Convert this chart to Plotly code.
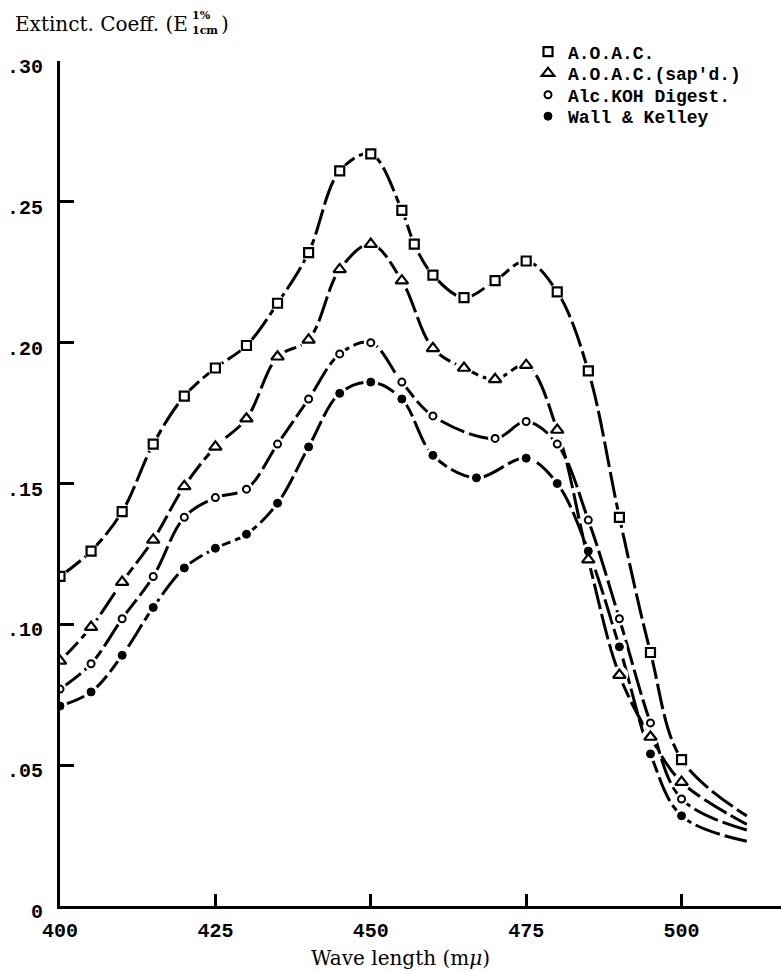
import plotly.graph_objects as go

# ---------------- data ----------------
wl_aoac = [400, 405, 410, 415, 420, 425, 430, 435, 440, 445, 450, 455, 457, 460,
           465, 470, 475, 480, 485, 490, 495, 500]
ext_aoac = [0.117, 0.126, 0.140, 0.164, 0.181, 0.191, 0.199, 0.214, 0.232, 0.261,
            0.267, 0.247, 0.235, 0.224, 0.216, 0.222, 0.229, 0.218, 0.190, 0.138,
            0.090, 0.052]

wl_sapd = [400, 405, 410, 415, 420, 425, 430, 435, 440, 445, 450, 455, 460, 465,
           470, 475, 480, 485, 490, 495, 500]
ext_sapd = [0.087, 0.099, 0.115, 0.130, 0.149, 0.163, 0.173, 0.195, 0.201, 0.226,
            0.235, 0.222, 0.198, 0.191, 0.187, 0.192, 0.169, 0.123, 0.082, 0.060,
            0.044]

wl_koh = [400, 405, 410, 415, 420, 425, 430, 435, 440, 445, 450, 455, 460, 470,
          475, 480, 485, 490, 495, 500]
ext_koh = [0.077, 0.086, 0.102, 0.117, 0.138, 0.145, 0.148, 0.164, 0.180, 0.196,
           0.200, 0.186, 0.174, 0.166, 0.172, 0.164, 0.137, 0.102, 0.065, 0.038]

wl_wk = [400, 405, 410, 415, 420, 425, 430, 435, 440, 445, 450, 455, 460, 467,
         475, 480, 485, 490, 495, 500]
ext_wk = [0.071, 0.076, 0.089, 0.106, 0.120, 0.127, 0.132, 0.143, 0.163, 0.182,
          0.186, 0.180, 0.160, 0.152, 0.159, 0.150, 0.126, 0.092, 0.054, 0.032]

# unmarked end of each drawn curve
wl_tail = 510.5
tail_values = [0.032, 0.029, 0.027, 0.023]

series_names = ["A.O.A.C.", "A.O.A.C.(sap'd.)", "Alc.KOH Digest.", "Wall & Kelley"]

x_tickvals = [400, 425, 450, 475, 500]
x_ticktext = ["400", "425", "450", "475", "500"]
y_tickvals = [0, 0.05, 0.10, 0.15, 0.20, 0.25, 0.30]
y_ticktext = ["0", ".05", ".10", ".15", ".20", ".25", ".30"]

# ---------------- styling ----------------
W, H = 781, 971
L, R, T, B = 60, 0, 61, 65
PW, PH = W - L - R, H - T - B


def px(xp):
    return (xp - L) / PW


def py(yp):
    return (H - B - yp) / PH


mono = dict(family="Liberation Mono, Courier New, monospace", size=20, color="black", weight="bold")
mono_leg = dict(family="Liberation Mono, Courier New, monospace", size=18, color="black", weight="bold")
serif = dict(family="DejaVu Serif, serif", size=20, color="black")

styles = [
    dict(symbol="square", size=9, color="white", line=dict(color="black", width=2.2)),
    dict(symbol="triangle-up", size=11, color="white", line=dict(color="black", width=2.2)),
    dict(symbol="circle", size=7, color="white", line=dict(color="black", width=2)),
    dict(symbol="circle", size=8, color="black", line=dict(color="black", width=1)),
]

data = [(wl_aoac, ext_aoac), (wl_sapd, ext_sapd), (wl_koh, ext_koh), (wl_wk, ext_wk)]
legend_ids = ["legend", "legend2", "legend3", "legend4"]

fig = go.Figure()

for (wl, ext), tail in zip(data, tail_values):
    fig.add_trace(go.Scatter(
        x=wl + [wl_tail], y=ext + [tail], mode="lines",
        line=dict(color="black", width=3, shape="spline", smoothing=1.0, dash="26px,5px"),
        showlegend=False, hoverinfo="skip"))

for (wl, ext), st in zip(data, styles):
    fig.add_trace(go.Scatter(
        x=wl, y=ext, mode="markers",
        marker=dict(symbol="circle", size=st["size"] + 7, color="white"),
        showlegend=False, hoverinfo="skip"))

for (wl, ext), st, name, lg in zip(data, styles, series_names, legend_ids):
    fig.add_trace(go.Scatter(
        x=wl, y=ext, mode="markers", name=name, marker=st, legend=lg))

legend_rows = [52, 73.5, 95, 116.5]
legend_common = dict(x=px(528), xanchor="left", yanchor="middle",
                     bgcolor="rgba(0,0,0,0)", borderwidth=0, font=mono_leg)

fig.update_layout(
    width=W, height=H,
    margin=dict(l=L, r=R, t=T, b=B),
    paper_bgcolor="white", plot_bgcolor="white",
    xaxis=dict(range=[400, 516], tickmode="array", tickvals=x_tickvals, ticktext=x_ticktext,
               ticks="inside", ticklen=12, tickwidth=2.5, tickcolor="black",
               showline=True, linewidth=3, linecolor="black",
               showgrid=False, zeroline=False, tickfont=mono, ticklabelstandoff=4),
    yaxis=dict(range=[0, 0.30], tickmode="array", tickvals=y_tickvals, ticktext=y_ticktext,
               ticks="inside", ticklen=14, tickwidth=2.5, tickcolor="black",
               showline=True, linewidth=3, linecolor="black",
               showgrid=False, zeroline=False, tickfont=mono,
               ticklabelstandoff=10, ticklabelshift=5),
    legend=dict(y=py(legend_rows[0]), **legend_common),
    legend2=dict(y=py(legend_rows[1]), **legend_common),
    legend3=dict(y=py(legend_rows[2]), **legend_common),
    legend4=dict(y=py(legend_rows[3]), **legend_common),
)

ann = [
    dict(text="Extinct. Coeff. (E", x=px(190), y=py(24), xanchor="right", yanchor="middle", font=serif),
    dict(text="1%", x=px(190), y=py(16), xanchor="left", yanchor="middle",
         font=dict(family="DejaVu Serif, serif", size=11, color="black", weight="bold")),
    dict(text="1cm", x=px(190), y=py(30), xanchor="left", yanchor="middle",
         font=dict(family="DejaVu Serif, serif", size=11, color="black", weight="bold")),
    dict(text=")", x=px(219), y=py(24), xanchor="left", yanchor="middle", font=serif),
    dict(text="Wave length (m<i>μ</i>)", x=px(400), y=py(958), xanchor="center", yanchor="middle", font=serif),
]
for a in ann:
    fig.add_annotation(xref="paper", yref="paper", showarrow=False, **a)

fig.write_html("out.html")
